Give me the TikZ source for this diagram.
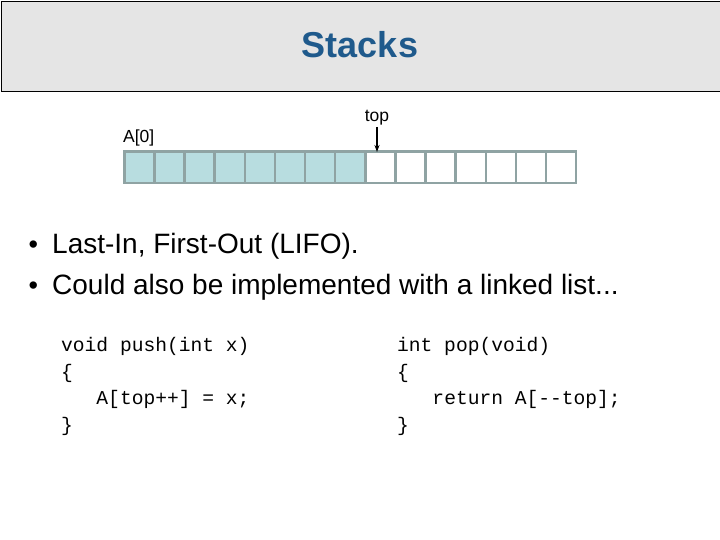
\documentclass[tikz,border=0pt]{standalone}
\usepackage{fontspec}
\setmainfont{Liberation Sans}
\setmonofont{Liberation Mono}
\usetikzlibrary{arrows.meta}
\definecolor{titlebg}{HTML}{E5E5E5}
\definecolor{titleblue}{HTML}{1F5A8C}
\definecolor{cellfill}{HTML}{B8DDE0}
\definecolor{cellborder}{HTML}{8FA3A3}
\tikzset{
  cell/.style={draw=cellborder, line width=2.5pt, minimum width=30.13pt, minimum height=31.5pt, inner sep=0pt, anchor=north west},
  usedcell/.style={cell, fill=cellfill},
  freecell/.style={cell, fill=white},
  lbl/.style={font=\fontsize{17.5}{20}\selectfont, inner sep=0pt},
  bullet/.style={font=\fontsize{28}{32}\selectfont, inner sep=0pt, anchor=base west},
  code/.style={font=\ttfamily\fontsize{19.6}{26.7}\selectfont, inner sep=0pt, anchor=north west, align=left}
}
\newcommand{\bul}{\llap{\fontsize{27}{27}\selectfont•\hspace{14pt}}}
\begin{document}
\begin{tikzpicture}[x=1pt,y=-1pt]
\useasboundingbox (0,0) rectangle (720,540);
\fill[white] (0,0) rectangle (720,540);
\node[draw=black, line width=1.2pt, fill=titlebg, minimum width=719pt, minimum height=90pt, anchor=north west, inner sep=0pt] (bar) at (0.6,0.6) {};
\node[font=\bfseries\fontsize{36}{40}\selectfont, text=titleblue] (title) at (360,45) {Stacks};
\foreach \i in {0,...,7}{
  \node[usedcell] (c\i) at ({123+\i*30.13},150.2) {};
}
\foreach \i in {8,...,14}{
  \node[freecell] (c\i) at ({123+\i*30.13},150.2) {};
}
\node[lbl, anchor=base west] (a0) at (123,143) {A[0]};
\node[lbl, anchor=base] (top) at (377,122) {top};
\coordinate (topstart) at (377,127);
\coordinate (topend) at (377,152);
\draw[-{Stealth[length=7pt,width=5pt]}, line width=1.3pt] (topstart) -- (topend);
\node[bullet] (b1) at (52,253) {\bul Last-In, First-Out (LIFO).};
\node[bullet] (b2) at (52,294) {\bul Could also be implemented with a linked list...};
\node[code] (push) at (61,337) {void push(int x)\\\{\\\ \ \ A[top++] = x;\\\}};
\node[code] (pop) at (397,337) {int pop(void)\\\{\\\ \ \ return A[-{}-top];\\\}};
\end{tikzpicture}
\end{document}
